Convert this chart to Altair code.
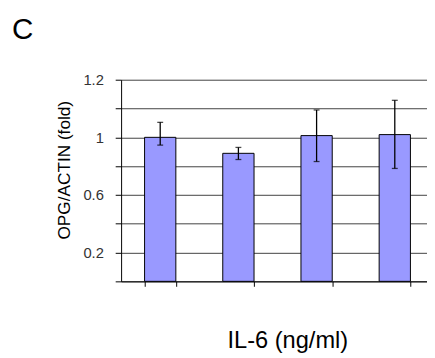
import altair as alt
import pandas as pd

categories = ["0", "1", "10", "100"]
means = [1.00, 0.889, 1.012, 1.019]
upper = [1.104, 0.930, 1.190, 1.257]
lower = [0.946, 0.846, 0.832, 0.784]
tick_values = [0, 0.2, 0.4, 0.6, 0.8, 1.0, 1.2, 1.4]

df = pd.DataFrame({"dose": categories, "mean": means, "hi": upper, "lo": lower})

FONT = "Liberation Sans"

xscale = alt.Scale(domain=categories, range=[0, 318], paddingInner=0.6, paddingOuter=0.3)
yscale = alt.Scale(domain=[0, 1.4], nice=False, zero=True)

label_expr = ("datum.value > 1.3 ? '1.2' : (abs(datum.value-1) < 0.01 ? '1' : "
              "(abs(datum.value-0.6) < 0.01 ? '0.6' : (abs(datum.value-0.2) < 0.01 ? '0.2' : '')))")

xaxis = alt.Axis(labels=False, ticks=True, tickBand="extent", tickSize=5,
                 tickColor="black", domainColor="black", grid=False,
                 title="IL-6 (ng/ml)", titleFont=FONT, titleFontSize=24,
                 titleFontWeight="normal", titleColor="black",
                 titleX=169, titleY=67, titleAlign="center",
                 titleBaseline="alphabetic")
yaxis = alt.Axis(values=tick_values, labelExpr=label_expr, grid=True,
                 gridColor="#404040", gridWidth=1,
                 domainColor="black", tickColor="black", tickSize=6,
                 labelPadding=12, labelFont=FONT, labelFontSize=15,
                 labelColor="#333333",
                 title="OPG/ACTIN (fold)", titleFont=FONT, titleFontSize=17.5,
                 titleFontWeight="normal", titleColor="black",
                 titleX=-57, titleY=91.5, titleAngle=270,
                 titleAlign="center", titleBaseline="middle")

X = alt.X("dose:N", scale=xscale, sort=categories, axis=xaxis)

base = alt.Chart(df)

bars = base.mark_bar(color="#9999FF", stroke="black", strokeWidth=1).encode(
    x=X, y=alt.Y("mean:Q", scale=yscale, axis=yaxis),
)

rules = base.mark_rule(color="black", strokeWidth=1.3).encode(
    x=X, y=alt.Y("lo:Q", scale=yscale, axis=yaxis), y2="hi:Q",
)

cap_hi = base.mark_tick(color="black", size=6, thickness=1.3).encode(
    x=X, y=alt.Y("hi:Q", scale=yscale, axis=yaxis),
)
cap_lo = base.mark_tick(color="black", size=6, thickness=1.3).encode(
    x=X, y=alt.Y("lo:Q", scale=yscale, axis=yaxis),
)

letter = alt.Chart(pd.DataFrame({"t": ["C"]})).mark_text(
    font=FONT, fontSize=30, color="black", align="center", baseline="alphabetic"
).encode(text="t:N", x=alt.value(-100), y=alt.value(-41.5))

chart = alt.layer(bars, rules, cap_hi, cap_lo, letter).properties(
    width=311, height=205,
    padding={"left": 115, "top": 70, "right": 0, "bottom": 75},
    autosize=alt.AutoSizeParams(type="none"),
    background="white",
).configure_view(strokeWidth=0)

chart.save("out.html", embed_options={"renderer": "svg", "actions": False})
